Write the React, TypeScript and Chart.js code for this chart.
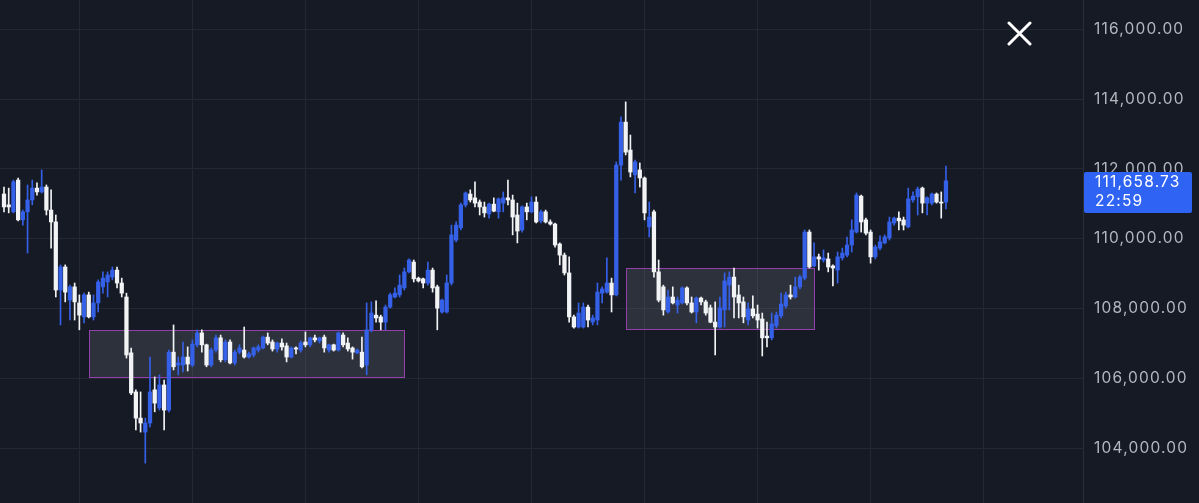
import React, { useEffect, useRef } from 'react';
import { Chart, registerables } from 'chart.js';

Chart.register(...registerables);

// Hourly candles (index 0 = oldest visible candle)
const opens = [
  111280, 110970, 110770, 111680, 110540, 110770, 111110, 111450, 111340, 111480,
  110820, 110480, 108530, 109190, 108240, 108620, 108160, 107760, 108390, 107760,
  108160, 108620, 108760, 108900, 109100, 108730, 108330, 106730, 105610, 104860,
  104460, 104720, 105670, 105150, 105810, 105090, 106750, 106380, 106380, 106610,
  106380, 106960, 107300, 106960, 106380, 106810, 107160, 106530, 107040, 106440,
  106750, 106810, 106610, 106670, 106810, 106870, 107180, 107040, 106840, 107010,
  106930, 106610, 106870, 106810, 107040, 106960, 107160, 107070, 107180, 106810,
  106960, 106810, 107240, 107010, 106870, 106730, 106750, 106380, 107390, 107810,
  107760, 107610, 108040, 108330, 108390, 108590, 109050, 109330, 108870, 108850,
  108730, 109100, 108620, 107900, 107900, 108730, 109960, 110310, 110970, 111280,
  111170, 111050, 110910, 110710, 110990, 110770, 111020, 111170, 111110, 110680,
  110250, 110910, 110770, 111050, 110510, 110770, 110480, 110420, 109850, 109530,
  109020, 107760, 107470, 107470, 108040, 107610, 107670, 108440, 108470, 108730,
  108390, 112110, 113340, 112540, 111830, 111970, 111740, 110340, 110770, 109050,
  108620, 107900, 108330, 108100, 108160, 108590, 108160, 107900, 108300, 108190,
  108020, 107610, 107470, 107960, 108670, 108900, 108390, 108190, 107670, 107990,
  107840, 107700, 107210, 107160, 107500, 107790, 108070, 108390, 108330, 108620,
  108870, 110190, 109220, 109480, 109390, 109420, 109220, 109100, 109450, 109530,
  109820, 110190, 111220, 110540, 110190, 109480, 109730, 109880, 110020, 110450,
  110590, 110540, 110340, 111110, 111200, 111450, 111020, 111020, 111280, 111050,
  111050,
];
const highs = [
  111480, 111450, 111680, 111740, 110820, 111540, 111680, 111600, 111970, 111540,
  111400, 110680, 109250, 109250, 108670, 108730, 108390, 108440, 108470, 108390,
  108820, 109050, 109050, 109190, 109190, 108870, 108440, 106870, 105670, 105610,
  104860, 106610, 106040, 106100, 105950, 106810, 107530, 106610, 107040, 106900,
  107100, 107390, 107390, 106980, 106870, 107240, 107240, 107100, 107100, 106810,
  106960, 107470, 106750, 106900, 106960, 107210, 107300, 107100, 107040, 107130,
  107010, 106900, 106900, 107070, 107330, 107180, 107240, 107180, 107240, 106980,
  106980, 107330, 107300, 107160, 106900, 106840, 107180, 108160, 108190, 108220,
  107810, 108100, 108440, 108590, 108960, 109160, 109420, 109390, 108900, 108870,
  109330, 109160, 108670, 108270, 108960, 110390, 110480, 111020, 111340, 111400,
  111630, 111110, 111050, 111020, 111170, 111170, 111340, 111680, 111250, 111020,
  110940, 111020, 111200, 111200, 110820, 110820, 110540, 110450, 109880, 109590,
  109480, 107810, 108160, 108160, 108100, 107810, 108730, 108620, 109450, 108870,
  112200, 113490, 113920, 112970, 112250, 112170, 111770, 111050, 110820, 109390,
  108670, 108530, 108620, 108330, 108620, 108620, 108330, 108330, 108330, 108240,
  108100, 108190, 108330, 109020, 109050, 109160, 108670, 108330, 108160, 108360,
  108100, 107870, 107610, 107870, 107900, 108440, 108470, 108670, 108900, 108960,
  110250, 110250, 109880, 109560, 109680, 109590, 109250, 109620, 109730, 110050,
  110540, 111310, 111250, 110590, 110250, 109820, 110080, 110110, 110620, 110620,
  110770, 110620, 111450, 111340, 111480, 111480, 111200, 111310, 111310, 111340,
  112080,
];
const lows = [
  110770, 110740, 110740, 110510, 110390, 109590, 110970, 111250, 111310, 110680,
  109730, 108330, 107530, 108190, 107670, 107670, 107390, 107590, 107730, 107670,
  107900, 108440, 108330, 108820, 108590, 108330, 106580, 105530, 104520, 104460,
  103570, 104610, 105040, 105090, 104520, 105040, 106240, 106100, 106180, 106210,
  106330, 106900, 106750, 106330, 106330, 106750, 106470, 106470, 106410, 106380,
  106700, 106580, 106580, 106610, 106750, 106840, 106960, 106780, 106750, 106810,
  106470, 106580, 106700, 106750, 106900, 106900, 107040, 107010, 106750, 106750,
  106780, 106780, 106900, 106780, 106550, 106700, 106300, 106100, 107330, 107610,
  107390, 107390, 108010, 108300, 108330, 108530, 109020, 108760, 108760, 108590,
  108670, 108470, 107390, 107870, 107870, 108670, 109910, 110250, 110910, 111050,
  110910, 110680, 110620, 110590, 110770, 110590, 110770, 110970, 110110, 109880,
  110190, 110540, 110740, 110450, 110450, 110450, 110390, 109760, 109250, 108960,
  107610, 107440, 107440, 107440, 107470, 107530, 107530, 108160, 108440, 107900,
  108360, 111680, 112400, 111770, 111310, 111480, 110540, 110050, 108900, 108190,
  107810, 107870, 108130, 107870, 108130, 108100, 107870, 107590, 108100, 107810,
  107590, 106670, 107440, 107470, 107960, 107730, 107730, 107590, 107530, 107730,
  107440, 106640, 106900, 107100, 107440, 107730, 108010, 108270, 108300, 108560,
  108820, 109160, 109190, 109100, 109330, 109050, 108650, 108730, 109390, 109480,
  109620, 110160, 110190, 110110, 109300, 109420, 109680, 109850, 109960, 110390,
  110250, 110250, 110310, 111050, 110680, 110740, 110680, 110970, 111020, 110590,
  110850,
];
const closes = [
  110910, 110910, 111630, 110540, 110770, 111110, 111450, 111340, 111480, 110820,
  110480, 108530, 109190, 108470, 108620, 108190, 107810, 108390, 107760, 108160,
  108760, 108870, 108960, 109100, 108730, 108440, 106670, 105580, 104860, 104720,
  104720, 105610, 105290, 105810, 105090, 106750, 106330, 106440, 106610, 106410,
  106980, 107300, 106960, 106380, 106810, 107160, 106530, 107040, 106440, 106750,
  106870, 106610, 106700, 106870, 106900, 107180, 107010, 106840, 107010, 106900,
  106610, 106870, 106840, 107010, 106960, 107160, 107100, 107160, 106870, 106960,
  106810, 107300, 106960, 106840, 106750, 106810, 106330, 107390, 107870, 107730,
  107610, 108040, 108390, 108440, 108670, 109050, 109390, 108850, 108790, 108730,
  109100, 108590, 108010, 108240, 108730, 110110, 110390, 110970, 111310, 111110,
  111020, 110910, 110740, 110990, 110790, 111140, 111170, 111110, 110620, 110220,
  110910, 110770, 111050, 110480, 110770, 110480, 110420, 109820, 109530, 109020,
  107760, 107470, 107870, 108040, 107670, 107730, 108470, 108560, 108730, 108390,
  112110, 113340, 112480, 111910, 112200, 111740, 110740, 110620, 109050, 108240,
  107960, 108330, 108160, 108240, 108590, 108160, 107900, 108300, 108190, 107870,
  107610, 107470, 108020, 108790, 108900, 108330, 108160, 107760, 107990, 107790,
  107670, 107160, 107160, 107560, 107810, 108130, 108390, 108330, 108620, 108900,
  110190, 109190, 109480, 109420, 109450, 109190, 109160, 109480, 109590, 109820,
  110250, 111250, 110480, 110160, 109480, 109760, 109910, 110050, 110480, 110590,
  110510, 110390, 111140, 111220, 111420, 111020, 111170, 111280, 111050, 111020,
  111658.73,
];

const priceTicks = [104000, 106000, 108000, 110000, 112000, 114000, 116000];
// Day separators (candle index of each vertical grid line)
const dayLines = [16, 40, 64, 88, 112, 136, 160, 184, 208];
// Highlighted range zones
const zoneStart = [18, 132];
const zoneEnd = [85, 172];
const zoneLow = [106040, 107413];
const zoneHigh = [107385, 109161];
const lastPrice = 111658.73;
const countdown = '22:59';

const BG = '#161a25';
const GRID = '#242833';
const UP = '#3560e8';
const DOWN = '#f2f3f5';
const FONT = 'Inter, "Noto Sans", sans-serif';

const fmt = (v: number) =>
  v.toLocaleString('en-US', { minimumFractionDigits: 2, maximumFractionDigits: 2 });

export default function App() {
  const ref = useRef<HTMLCanvasElement>(null);

  useEffect(() => {
    document.body.style.margin = '0';
    document.body.style.background = BG;
    const colors = opens.map((o, i) => (closes[i] >= o ? UP : DOWN));

    const overlay = {
      id: 'overlay',
      beforeDraw(chart: any) {
        (chart.ctx as any).letterSpacing = '1.2px';
      },
      beforeDatasetsDraw(chart: any) {
        const { ctx, chartArea } = chart;
        const x = chart.scales.x;
        const y = chart.scales.y;
        ctx.save();
        ctx.beginPath();
        ctx.rect(chartArea.left, chartArea.top, chartArea.right - chartArea.left, chartArea.bottom - chartArea.top);
        ctx.clip();
        zoneStart.forEach((s, k) => {
          const x0 = Math.round(x.getPixelForValue(s));
          const x1 = Math.round(x.getPixelForValue(zoneEnd[k]));
          const y0 = Math.round(y.getPixelForValue(zoneHigh[k]));
          const y1 = Math.round(y.getPixelForValue(zoneLow[k]));
          ctx.fillStyle = 'rgba(128, 130, 140, 0.22)';
          ctx.fillRect(x0, y0, x1 - x0, y1 - y0);
          ctx.strokeStyle = '#9340ac';
          ctx.lineWidth = 1;
          ctx.strokeRect(x0 + 0.5, y0 + 0.5, x1 - x0, y1 - y0);
        });
        ctx.restore();
      },
      afterDraw(chart: any) {
        const { ctx } = chart;
        const y = chart.scales.y;
        const py = y.getPixelForValue(lastPrice);
        const top = Math.round(py) - 9;
        const left = Math.round(y.left) + 1;
        ctx.save();
        ctx.fillStyle = '#2f63f4';
        ctx.beginPath();
        (ctx as any).roundRect(left, top, 108, 41, 2);
        ctx.fill();
        ctx.fillStyle = '#ffffff';
        ctx.font = `15.5px ${FONT}`;
        ctx.textBaseline = 'middle';
        ctx.textAlign = 'left';
        ctx.fillText(fmt(lastPrice), left + 11, top + 10);
        ctx.fillText(countdown, left + 11, top + 29);
        ctx.restore();
      },
    };

    const chart = new Chart(ref.current as HTMLCanvasElement, {
      type: 'bar',
      data: {
        datasets: [
          {
            label: 'wick',
            data: lows.map((l, i) => ({ x: i, y: [l, highs[i]] })) as any,
            backgroundColor: colors,
            barThickness: 1,
            grouped: false,
            order: 2,
            borderWidth: 0,
          } as any,
          {
            label: 'body',
            data: opens.map((o, i) => ({ x: i, y: [o, closes[i]] })) as any,
            backgroundColor: colors,
            barThickness: 3.6,
            minBarLength: 1,
            grouped: false,
            order: 1,
            borderWidth: 0,
          } as any,
        ],
      },
      plugins: [overlay],
      options: {
        responsive: false,
        animation: false,
        maintainAspectRatio: false,
        layout: { padding: 0 },
        plugins: { legend: { display: false }, tooltip: { enabled: false } },
        scales: {
          x: {
            type: 'linear',
            min: -0.85,
            max: 229.1,
            offset: false,
            afterBuildTicks: (s: any) => {
              s.ticks = dayLines.map((v) => ({ value: v }));
            },
            afterFit: (s: any) => {
              s.height = 0;
              s.paddingLeft = 0;
              s.paddingRight = 0;
            },
            ticks: { display: false },
            grid: { color: GRID, drawTicks: false, offset: false, lineWidth: 1 },
            border: { display: false },
          },
          y: {
            position: 'right',
            min: 102428,
            max: 116839,
            afterBuildTicks: (s: any) => {
              s.ticks = priceTicks.map((v) => ({ value: v }));
            },
            afterFit: (s: any) => {
              s.width = 116;
              s.paddingTop = 0;
              s.paddingBottom = 0;
            },
            grid: { color: GRID, drawTicks: false, lineWidth: 1 },
            border: { display: true, color: '#2a2e39' },
            ticks: {
              color: '#b4b7c0',
              padding: 11,
              font: { family: FONT, size: 15.5 },
              callback: (v: any) => fmt(Number(v)),
            },
          },
        },
      } as any,
    });
    return () => chart.destroy();
  }, []);

  return (
    <div style={{ position: 'relative', width: 1199, height: 503, background: BG, overflow: 'hidden' }}>
      <canvas ref={ref} width={1199} height={503} style={{ display: 'block', width: 1199, height: 503 }} />
      <svg
        width={1199}
        height={503}
        style={{ position: 'absolute', left: 0, top: 0, pointerEvents: 'none' }}
      >
        <path d="M1009 23 L1030 44 M1030 23 L1009 44" stroke="#ffffff" strokeWidth={3} strokeLinecap="round" />
      </svg>
    </div>
  );
}
